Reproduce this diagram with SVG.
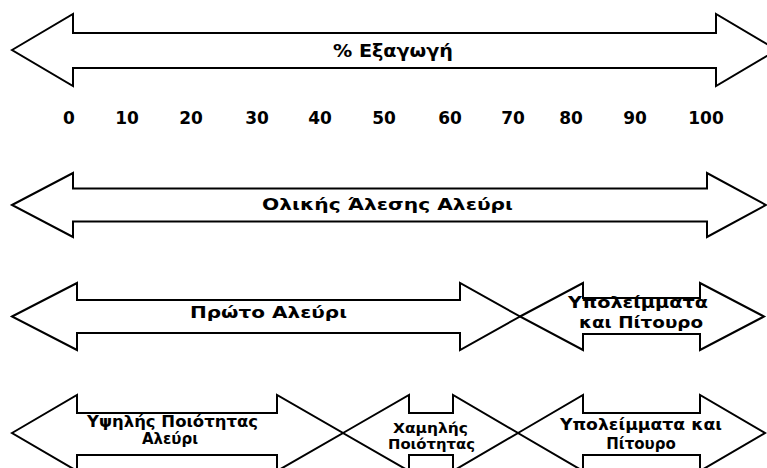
<svg xmlns="http://www.w3.org/2000/svg" width="767" height="468" viewBox="0 0 767 468">
  <style>
    .arrow { fill: #ffffff; stroke: #000000; stroke-width: 2; stroke-linejoin: miter; }
    .lbl { font-family: "DejaVu Sans", "Liberation Sans", sans-serif; font-weight: bold; fill: #000000; }
    .num { font-size: 17px; text-anchor: middle; }
    .mid { text-anchor: middle; }
  </style>
  <rect width="767" height="468" fill="#ffffff"/>

  <!-- Extraction percentage scale -->
  <g id="extraction">
    <polygon class="arrow" points="12,50 73,14 73,33 716,33 716,14 777,50 716,86 716,68 73,68 73,86"/>
    <text class="lbl" x="333" y="57" font-size="18" textLength="120" lengthAdjust="spacingAndGlyphs">% Εξαγωγή</text>
  </g>

  <g id="scale">
    <text class="lbl num" x="69" y="124">0</text>
    <text class="lbl num" x="127" y="124">10</text>
    <text class="lbl num" x="191" y="124">20</text>
    <text class="lbl num" x="257" y="124">30</text>
    <text class="lbl num" x="320" y="124">40</text>
    <text class="lbl num" x="384" y="124">50</text>
    <text class="lbl num" x="450" y="124">60</text>
    <text class="lbl num" x="513" y="124">70</text>
    <text class="lbl num" x="571" y="124">80</text>
    <text class="lbl num" x="635" y="124">90</text>
    <text class="lbl num" x="706" y="124">100</text>
  </g>

  <!-- Whole-meal flour -->
  <g id="wholemeal">
    <polygon class="arrow" points="12,205 73,173 73,188.5 707,188.5 707,173 766,205 707,237 707,221.5 73,221.5 73,237"/>
    <text class="lbl" x="262" y="210" font-size="16.5" textLength="251" lengthAdjust="spacingAndGlyphs">Ολικής  Άλεσης  Αλεύρι</text>
  </g>

  <!-- First flour / residues and bran -->
  <g id="first-flour">
    <polygon class="arrow" points="12,316.5 77,283 77,300 460,300 460,283 520,316.5 460,350 460,333 77,333 77,350"/>
    <text class="lbl" x="190" y="318" font-size="16.5" textLength="157" lengthAdjust="spacingAndGlyphs">Πρώτο  Αλεύρι</text>
  </g>
  <g id="residues-1">
    <polygon class="arrow" points="520,316.5 583,283 583,298 700,298 700,283 764,316.5 700,350 700,334 583,334 583,350"/>
    <text class="lbl" x="568" y="308" font-size="15.5" textLength="140" lengthAdjust="spacingAndGlyphs">Υπολείμματα</text>
    <text class="lbl" x="579" y="328" font-size="15.5" textLength="124" lengthAdjust="spacingAndGlyphs">και Πίτουρο</text>
  </g>

  <!-- High quality / low quality / residues and bran -->
  <g id="high-quality">
    <polygon class="arrow" points="12,433 77,395 77,413 277,413 277,395 343,433 277,471 277,455 77,455 77,471"/>
    <text class="lbl" x="87" y="427" font-size="15" textLength="171" lengthAdjust="spacingAndGlyphs">Υψηλής Ποιότητας</text>
    <text class="lbl mid" x="170" y="444" font-size="15">Αλεύρι</text>
  </g>
  <g id="low-quality">
    <polygon class="arrow" points="343,433 409,395 409,413 453,413 453,395 518,433 453,471 453,455 409,455 409,471"/>
    <text class="lbl" x="393" y="433" font-size="14.5" textLength="75" lengthAdjust="spacingAndGlyphs">Χαμηλής</text>
    <text class="lbl" x="388" y="449" font-size="14.5" textLength="87" lengthAdjust="spacingAndGlyphs">Ποιότητας</text>
  </g>
  <g id="residues-2">
    <polygon class="arrow" points="518,433 583,395 583,413 700,413 700,395 765,433 700,471 700,455 583,455 583,471"/>
    <text class="lbl" x="560" y="430" font-size="15" textLength="162" lengthAdjust="spacingAndGlyphs">Υπολείμματα και</text>
    <text class="lbl mid" x="641" y="449" font-size="15">Πίτουρο</text>
  </g>
</svg>
